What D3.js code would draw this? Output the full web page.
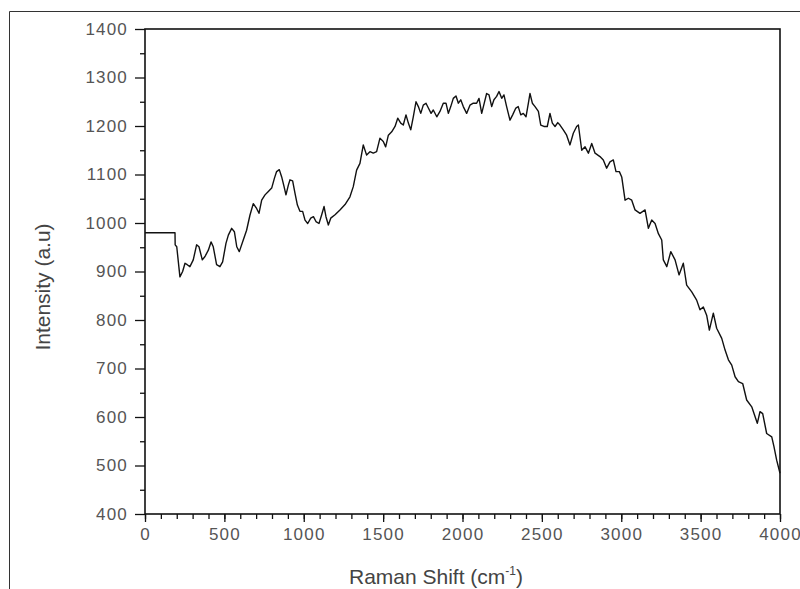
<!DOCTYPE html>
<html>
<head>
<meta charset="utf-8">
<script src="https://cdn.jsdelivr.net/npm/d3@7"></script>
<style>
  body { margin: 0; background: #fff; }
  svg { display: block; }
  .tick text { font-family: "Liberation Sans", Arial, sans-serif; fill: #555; letter-spacing: 1.2px; }
</style>
</head>
<body>
<svg id="chart" width="800" height="589"></svg>
<script>
// Raman spectrum, values
const shift = [
  0, 189, 190, 200, 220, 237, 252, 266, 283, 304, 325, 340, 361, 378, 399, 416, 430, 451, 472, 489, 510,
  525, 546, 563, 578, 594, 619, 640, 661, 682, 703, 718, 735, 756, 777, 798, 815, 829, 846, 861, 876,
  888, 903, 913, 930, 945, 960, 976, 993, 1008, 1025, 1044, 1061, 1077, 1096, 1113, 1128, 1140, 1155, 1170, 1197,
  1228, 1260, 1291, 1312, 1333, 1354, 1375, 1396, 1417, 1438, 1459, 1480, 1501, 1516, 1533, 1554, 1575, 1592, 1611, 1627,
  1644, 1659, 1674, 1690, 1707, 1722, 1737, 1753, 1770, 1785, 1802, 1816, 1838, 1858, 1879, 1896, 1911, 1926, 1942, 1959,
  1974, 1989, 2005, 2026, 2047, 2068, 2089, 2104, 2121, 2137, 2152, 2167, 2184, 2198, 2215, 2230, 2247, 2261, 2278, 2299,
  2316, 2336, 2351, 2367, 2383, 2400, 2415, 2425, 2440, 2457, 2478, 2493, 2513, 2534, 2551, 2566, 2583, 2600, 2614, 2635,
  2656, 2677, 2698, 2719, 2730, 2751, 2772, 2793, 2814, 2835, 2866, 2887, 2908, 2929, 2950, 2967, 2988, 3003, 3024, 3045,
  3066, 3087, 3118, 3150, 3171, 3192, 3213, 3234, 3255, 3265, 3287, 3312, 3339, 3364, 3391, 3412, 3444, 3475, 3496, 3517,
  3538, 3555, 3580, 3601, 3633, 3654, 3675, 3696, 3717, 3738, 3765, 3790, 3822, 3857, 3874, 3891, 3916, 3948, 3962, 3979,
  4000
];
const intensity = [
  980, 980, 955, 951, 889, 900, 917, 914, 910, 924, 955, 951, 924, 931, 944, 961, 951, 914, 910, 920, 958,
  975, 989, 982, 951, 941, 965, 985, 1016, 1040, 1030, 1020, 1047, 1058, 1065, 1072, 1092, 1106, 1110, 1095, 1075,
  1058, 1078, 1089, 1087, 1061, 1037, 1024, 1024, 1006, 999, 1010, 1013, 1003, 999, 1017, 1034, 1013, 996, 1010, 1017,
  1027, 1038, 1054, 1075, 1109, 1123, 1161, 1140, 1147, 1144, 1147, 1175, 1168, 1157, 1181, 1188, 1199, 1216, 1206, 1202,
  1223, 1206, 1192, 1219, 1250, 1240, 1226, 1243, 1247, 1237, 1226, 1233, 1219, 1230, 1247, 1247, 1226, 1240, 1257, 1262,
  1247, 1254, 1240, 1226, 1243, 1247, 1247, 1257, 1226, 1247, 1267, 1264, 1240, 1254, 1261, 1271, 1257, 1264, 1240, 1212,
  1223, 1237, 1240, 1223, 1226, 1219, 1247, 1267, 1247, 1240, 1230, 1202, 1199, 1199, 1226, 1206, 1199, 1207, 1202, 1192,
  1181, 1161, 1185, 1199, 1202, 1150, 1157, 1144, 1164, 1144, 1137, 1130, 1113, 1126, 1130, 1106, 1106, 1095, 1047, 1051,
  1047, 1027, 1020, 1027, 989, 1006, 999, 978, 965, 924, 910, 941, 924, 893, 917, 872, 858, 841, 821, 827,
  810, 779, 814, 783, 762, 738, 718, 707, 683, 673, 669, 635, 621, 587, 611, 607, 566, 559, 539, 511,
  484
];
const xTicks = [0, 500, 1000, 1500, 2000, 2500, 3000, 3500, 4000];
const yTicks = [400, 500, 600, 700, 800, 900, 1000, 1100, 1200, 1300, 1400];

const data = shift.map((s, i) => ({ x: s, y: intensity[i] }));

const svg = d3.select('#chart');
const margin = { left: 145, top: 29, right: 780, bottom: 514 };

const x = d3.scaleLinear().domain([0, 4000]).range([margin.left, margin.right]);
const y = d3.scaleLinear().domain([400, 1400]).range([margin.bottom, margin.top]);

// outer frame of the figure (left and top edges)
svg.append('path')
  .attr('d', 'M9.5,589 V11.5 H800')
  .attr('fill', 'none')
  .attr('stroke', '#333')
  .attr('stroke-width', 1);

// minor ticks first
svg.append('g')
  .attr('transform', `translate(0,${margin.bottom})`)
  .call(d3.axisBottom(x).tickValues(d3.range(0, 4001, 100)).tickSize(5).tickFormat(''))
  .call(g => g.select('.domain').remove());
svg.append('g')
  .attr('transform', `translate(${margin.left},0)`)
  .call(d3.axisLeft(y).tickValues(d3.range(450, 1400, 100)).tickSize(5).tickFormat(''))
  .call(g => g.select('.domain').remove());

const xAxis = svg.append('g')
  .attr('transform', `translate(0,${margin.bottom})`)
  .call(d3.axisBottom(x).tickValues(xTicks).tickSize(8).tickPadding(6).tickFormat(d3.format('d')));
xAxis.selectAll('text').style('font-size', '17px');

const yAxis = svg.append('g')
  .attr('transform', `translate(${margin.left},0)`)
  .call(d3.axisLeft(y).tickValues(yTicks).tickSize(10).tickPadding(7).tickFormat(d3.format('d')));
yAxis.selectAll('text').style('font-size', '17px');

svg.selectAll('.tick line').attr('stroke', '#111').attr('stroke-width', 1.3);
svg.selectAll('.domain').remove();

// plot frame
svg.append('rect')
  .attr('x', margin.left)
  .attr('y', margin.top)
  .attr('width', margin.right - margin.left)
  .attr('height', margin.bottom - margin.top)
  .attr('fill', 'none')
  .attr('stroke', '#111')
  .attr('stroke-width', 1.6);

const line = d3.line().x(d => x(d.x)).y(d => y(d.y)).curve(d3.curveLinear);

svg.append('path')
  .datum(data)
  .attr('d', line)
  .attr('fill', 'none')
  .attr('stroke', '#111')
  .attr('stroke-width', 1.4)
  .attr('stroke-linejoin', 'round');

// axis titles
const xTitle = svg.append('text')
  .attr('x', 436)
  .attr('y', 584)
  .attr('text-anchor', 'middle')
  .style('font-family', '"Liberation Sans", Arial, sans-serif')
  .style('font-size', '21px')
  .attr('fill', '#444');
xTitle.append('tspan').text('Raman Shift (cm');
xTitle.append('tspan').attr('dy', -9).style('font-size', '12px').text('-1');
xTitle.append('tspan').attr('dy', 9).text(')');

svg.append('text')
  .attr('transform', 'translate(50,287) rotate(-90)')
  .attr('text-anchor', 'middle')
  .style('font-family', '"Liberation Sans", Arial, sans-serif')
  .style('font-size', '21px')
  .attr('fill', '#444')
  .text('Intensity (a.u)');
</script>
</body>
</html>
